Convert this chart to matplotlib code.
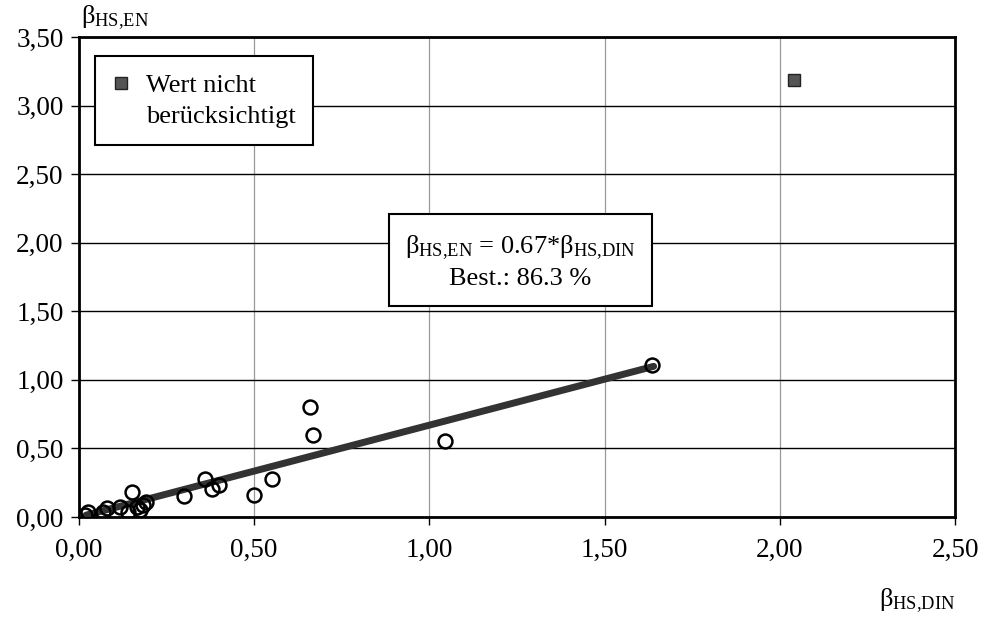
import matplotlib.pyplot as plt
from matplotlib.lines import Line2D
import numpy as np

plt.rcParams["font.family"] = ["Liberation Serif", "DejaVu Serif"]
plt.rcParams["mathtext.fontset"] = "custom"
plt.rcParams["mathtext.rm"] = "Liberation Serif"
plt.rcParams["mathtext.it"] = "Liberation Serif"

# measured values (beta_HS,DIN, beta_HS,EN)
beta_din = [0.017, 0.027, 0.07, 0.079, 0.117, 0.14, 0.152, 0.165, 0.174, 0.184, 0.19,
            0.30, 0.36, 0.379, 0.40, 0.50, 0.55, 0.659, 0.667, 1.045, 1.634]
beta_en = [0.015, 0.04, 0.04, 0.063, 0.075, 0.04, 0.185, 0.075, 0.05, 0.088, 0.11,
           0.15, 0.275, 0.204, 0.23, 0.16, 0.277, 0.80, 0.60, 0.555, 1.11]
# excluded value
excl_din = [2.04]
excl_en = [3.19]
# regression line
slope = 0.67
fit_range = [0.02, 1.64]
x_ticks = [0.0, 0.5, 1.0, 1.5, 2.0, 2.5]
y_ticks = [0.0, 0.5, 1.0, 1.5, 2.0, 2.5, 3.0, 3.5]

fig = plt.figure(figsize=(9.81, 6.18), dpi=100)
ax = fig.add_axes([0.0805, 0.1634, 0.893, 0.7766])

ax.set_xlim(0, 2.5)
ax.set_ylim(0, 3.5)
ax.set_xticks(x_ticks)
ax.set_yticks(y_ticks)
ax.set_xticklabels([("%.2f" % v).replace(".", ",") for v in x_ticks])
ax.set_yticklabels([("%.2f" % v).replace(".", ",") for v in y_ticks])
ax.tick_params(direction="out", length=6, width=1, labelsize=19.5, pad=5)
ax.tick_params(axis="x", pad=9)
ax.xaxis.grid(True, color="#999999", lw=0.9)
ax.yaxis.grid(True, color="black", lw=1.0)
ax.set_axisbelow(True)
for s in ax.spines.values():
    s.set_linewidth(2)

fx = np.array(fit_range)
ax.plot(fx, slope * fx, color="#333333", lw=5, solid_capstyle="round", zorder=3)
ax.plot(beta_din, beta_en, ls="none", marker="o", ms=10, mfc="none",
        mec="black", mew=1.8, zorder=4)
ax.plot(excl_din, excl_en, ls="none", marker="s", ms=9, mfc="#555555",
        mec="#222222", mew=1, zorder=4)

h1 = Line2D([], [], ls="none", marker="s", ms=8, mfc="#555555", mec="#222222")
h2 = Line2D([], [], ls="none")
leg = ax.legend([h1, h2], ["Wert nicht", "berücksichtigt"], loc="upper left",
                bbox_to_anchor=(0.018, 0.96), borderaxespad=0, fontsize=19,
                frameon=True, fancybox=False, edgecolor="black", framealpha=1,
                handlelength=0.7, handletextpad=0.6, labelspacing=0.3,
                borderpad=0.65)
leg.get_frame().set_linewidth(1.5)

ax.text(1.26, 1.86, "$\\mathrm{β}_{\\mathrm{HS{,}EN}}$ = 0.67*$\\mathrm{β}_{\\mathrm{HS{,}DIN}}$\nBest.: 86.3 %",
        ha="center", va="center", fontsize=19, linespacing=1.35,
        bbox=dict(boxstyle="square,pad=0.6", fc="white", ec="black", lw=1.5), zorder=5)

fig.text(0.083, 0.972, "$\\mathrm{β}_{\\mathrm{HS{,}EN}}$", fontsize=19, ha="left", va="center")
fig.text(0.974, 0.028, "$\\mathrm{β}_{\\mathrm{HS{,}DIN}}$", fontsize=19, ha="right", va="center")

fig.savefig("out.png", dpi=100)
